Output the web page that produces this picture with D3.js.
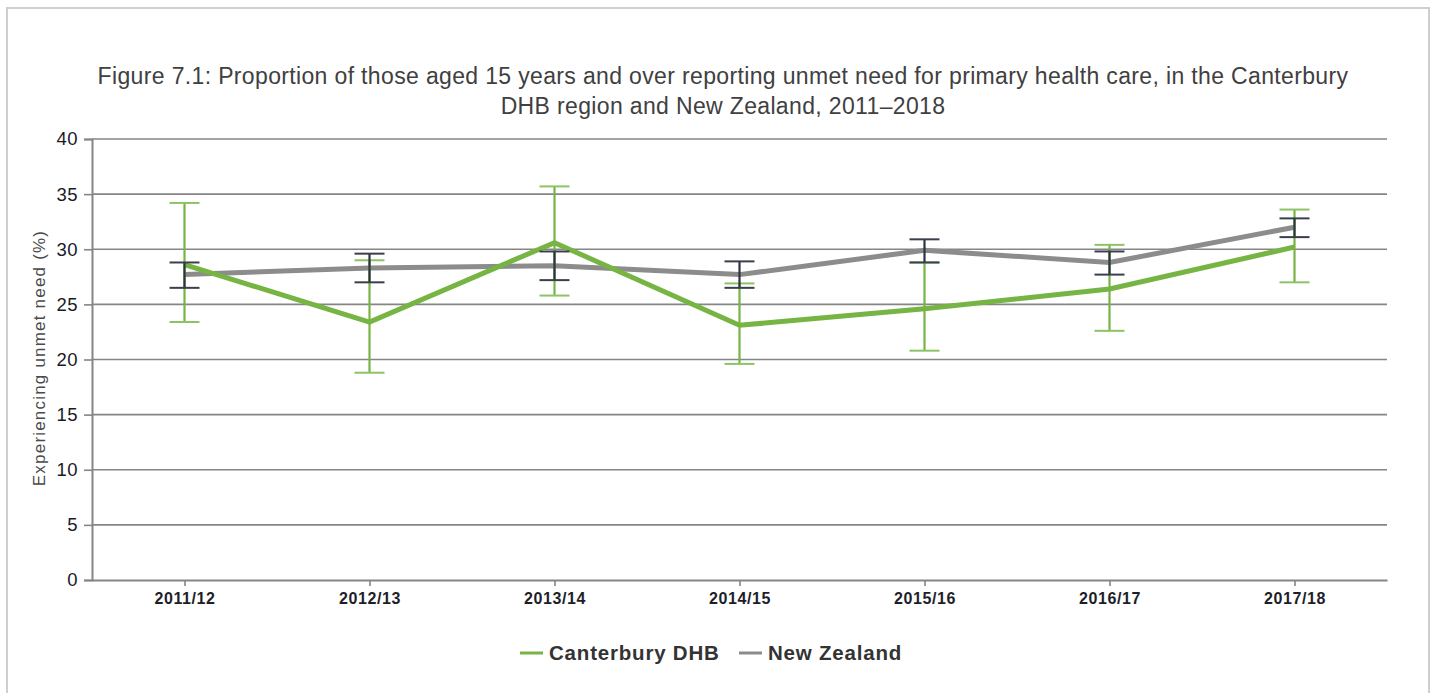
<!DOCTYPE html>
<html>
<head>
<meta charset="utf-8">
<script src="https://cdn.jsdelivr.net/npm/d3@7"></script>
<style>
  body { margin: 0; background: #fff; font-family: "Liberation Sans", Arial, sans-serif; }
  svg text { font-family: "Liberation Sans", Arial, sans-serif; }
</style>
</head>
<body>
<div id="chart"></div>
<script>
// Data
const years = ["2011/12", "2012/13", "2013/14", "2014/15", "2015/16", "2016/17", "2017/18"];
const canterbury = [28.6, 23.4, 30.6, 23.1, 24.6, 26.4, 30.2];
const canterburyLow = [23.4, 18.8, 25.8, 19.6, 20.8, 22.6, 27.0];
const canterburyHigh = [34.2, 29.0, 35.7, 26.9, 28.8, 30.4, 33.6];
const newZealand = [27.7, 28.3, 28.5, 27.7, 29.9, 28.8, 32.0];
const nzLow = [26.5, 27.0, 27.2, 26.5, 28.8, 27.7, 31.1];
const nzHigh = [28.8, 29.6, 29.8, 28.9, 30.9, 29.8, 32.8];
const yTicks = [0, 5, 10, 15, 20, 25, 30, 35, 40];

const W = 1437, H = 693;
const margin = {top: 139, right: 50, bottom: 113, left: 92};
const width = W - margin.left - margin.right;
const height = H - margin.top - margin.bottom;

const svg = d3.select("#chart").append("svg")
    .attr("width", W)
    .attr("height", H);

// outer frame
svg.append("rect")
    .attr("x", 7).attr("y", 8)
    .attr("width", 1422).attr("height", 700)
    .attr("fill", "none")
    .attr("stroke", "#cfcfcf")
    .attr("stroke-width", 2);

// title
const title = svg.append("text")
    .attr("text-anchor", "middle")
    .attr("fill", "#404040")
    .attr("font-size", 23)
    .attr("letter-spacing", 0.35);
title.append("tspan").attr("x", 723).attr("y", 84)
    .text("Figure 7.1: Proportion of those aged 15 years and over reporting unmet need for primary health care, in the Canterbury");
title.append("tspan").attr("x", 723).attr("y", 114)
    .text("DHB region and New Zealand, 2011\u20132018");

const g = svg.append("g")
    .attr("transform", `translate(${margin.left},${margin.top})`);

const x = d3.scalePoint()
    .domain(years)
    .range([0, width])
    .padding(0.5);
const y = d3.scaleLinear()
    .domain([0, 40])
    .range([height, 0]);

// gridlines
g.append("g")
    .selectAll("line")
    .data(yTicks.filter(t => t > 0))
    .join("line")
    .attr("x1", 0).attr("x2", width)
    .attr("y1", d => y(d)).attr("y2", d => y(d))
    .attr("stroke", "#858585")
    .attr("stroke-width", 1.6);

// y axis
const yAxis = g.append("g")
    .call(d3.axisLeft(y).tickValues(yTicks).tickSize(8).tickPadding(6));
yAxis.select(".domain").attr("stroke", "#858585").attr("stroke-width", 2);
yAxis.selectAll(".tick line").attr("stroke", "#858585").attr("stroke-width", 1.6);
yAxis.selectAll(".tick text")
    .attr("font-size", 18.5)
    .attr("fill", "#1a1a26")
    .attr("letter-spacing", 0.5)
    .attr("font-family", "'Liberation Sans', Arial, sans-serif");

// x axis
const xAxis = g.append("g")
    .attr("transform", `translate(0,${height})`)
    .call(d3.axisBottom(x).tickSize(6).tickPadding(5).tickSizeOuter(0));
xAxis.select(".domain").attr("stroke", "#858585").attr("stroke-width", 2);
xAxis.selectAll(".tick line").attr("stroke", "#858585").attr("stroke-width", 1.6);
xAxis.selectAll(".tick text")
    .attr("font-size", 16)
    .attr("font-weight", "bold")
    .attr("fill", "#1e1e2a")
    .attr("dy", "0.82em")
    .attr("letter-spacing", 0.6)
    .attr("font-family", "'Liberation Sans', Arial, sans-serif");

// y axis label
svg.append("text")
    .attr("transform", `translate(45,358) rotate(-90)`)
    .attr("text-anchor", "middle")
    .attr("font-size", 17)
    .attr("letter-spacing", 1.2)
    .attr("fill", "#4a4a4a")
    .text("Experiencing unmet need (%)");

const line = d3.line()
    .x((d, i) => x(years[i]))
    .y(d => y(d));

// lines
g.append("path")
    .datum(newZealand)
    .attr("fill", "none")
    .attr("stroke", "#8c8c8c")
    .attr("stroke-width", 5)
    .attr("d", line);
g.append("path")
    .datum(canterbury)
    .attr("fill", "none")
    .attr("stroke", "#76b443")
    .attr("stroke-width", 5)
    .attr("d", line);

// error bars
function errorBars(lo, hi, stemColor, capColor) {
    const eg = g.append("g");
    const capHalf = 15;
    years.forEach((yr, i) => {
        const cx = x(yr);
        eg.append("line")
            .attr("x1", cx).attr("x2", cx)
            .attr("y1", y(lo[i])).attr("y2", y(hi[i]))
            .attr("stroke", stemColor).attr("stroke-width", 2.2);
        [lo[i], hi[i]].forEach(v => {
            eg.append("line")
                .attr("x1", cx - capHalf).attr("x2", cx + capHalf)
                .attr("y1", y(v)).attr("y2", y(v))
                .attr("stroke", capColor).attr("stroke-width", 2);
        });
    });
}
errorBars(canterburyLow, canterburyHigh, "#76b443", "#8cc465");
errorBars(nzLow, nzHigh, "#2e3340", "#3a3f4c");

// legend
const legend = svg.append("g").attr("transform", "translate(520,653)");
const legendData = [
    {label: "Canterbury DHB", color: "#76b443", x: 0},
    {label: "New Zealand", color: "#8c8c8c", x: 219}
];
const li = legend.selectAll("g")
    .data(legendData)
    .join("g")
    .attr("transform", d => `translate(${d.x},0)`);
li.append("line")
    .attr("x1", 0).attr("x2", 23)
    .attr("y1", 0).attr("y2", 0)
    .attr("stroke", d => d.color)
    .attr("stroke-width", 3);
li.append("text")
    .attr("x", 29)
    .attr("y", 0)
    .attr("dy", "0.35em")
    .attr("font-size", 20.5)
    .attr("font-weight", "bold")
    .attr("letter-spacing", 0.8)
    .attr("fill", "#333333")
    .text(d => d.label);
</script>
</body>
</html>
